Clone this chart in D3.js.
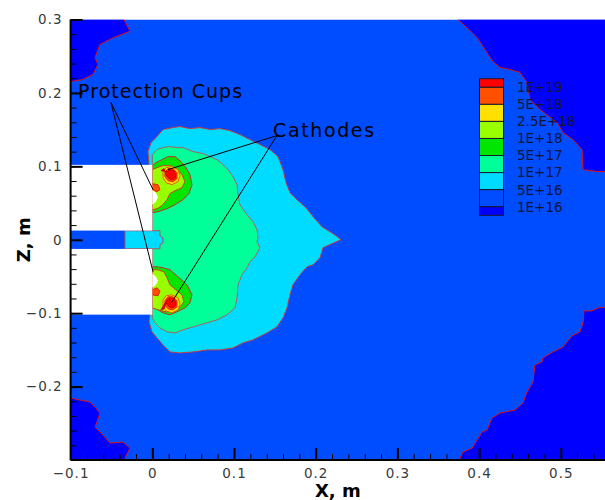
<!DOCTYPE html>
<html>
<head>
<meta charset="utf-8">
<script src="https://cdn.jsdelivr.net/npm/d3@7"></script>
<style>
  body { margin: 0; background: #fff; }
  svg { display: block; font-family: "DejaVu Sans", "Liberation Sans", sans-serif; }
</style>
</head>
<body>
<div id="chart"></div>
<script>
const width = 605;
const height = 500;

// legend levels, top to bottom
const levelLabels = ['1E+19', '5E+18', '2.5E+18', '1E+18', '5E+17', '1E+17', '5E+16', '1E+16'];
const levelColors = ['#ff0000', '#ff5000', '#ffe000', '#99ff00', '#00e600', '#00ff99', '#00dcff', '#004cff', '#0000ff'];

const xTicks = [-0.1, 0, 0.1, 0.2, 0.3, 0.4, 0.5];
const zTicks = [-0.2, -0.1, 0, 0.1, 0.2, 0.3];

// contour outlines, [x, z] in metres
const darkTopLeft = [[-0.0346, 0.3], [-0.0273, 0.284], [-0.0371, 0.2797], [-0.0469, 0.2756], [-0.064, 0.266], [-0.0701, 0.248], [-0.0665, 0.2387], [-0.0726, 0.225], [-0.0861, 0.218], [-0.1, 0.2155]];
const darkBottomLeft = [[-0.1, -0.2156], [-0.0885, -0.2183], [-0.0763, -0.221], [-0.0701, -0.2278], [-0.064, -0.236], [-0.0677, -0.2483], [-0.0701, -0.2551], [-0.0603, -0.266], [-0.0518, -0.2769], [-0.0359, -0.2756], [-0.0273, -0.2838], [-0.0334, -0.2974], [-0.0334, -0.3]];
const darkTopRight = [[0.3742, 0.3], [0.3913, 0.2824], [0.3974, 0.2756], [0.4047, 0.2633], [0.4109, 0.2524], [0.417, 0.2428], [0.4255, 0.2347], [0.4378, 0.2319], [0.45, 0.2278], [0.4586, 0.2142], [0.4623, 0.191], [0.4745, 0.1774], [0.4953, 0.1596], [0.5027, 0.146], [0.5149, 0.1364], [0.5259, 0.1228], [0.5272, 0.0955], [0.5443, 0.0928], [0.56, 0.0928]];
const darkBottomRight = [[0.3755, -0.3], [0.3804, -0.2892], [0.3914, -0.2838], [0.4036, -0.2619], [0.4097, -0.2592], [0.4158, -0.2428], [0.4256, -0.236], [0.4439, -0.2319], [0.4537, -0.2224], [0.4586, -0.2074], [0.466, -0.1937], [0.4684, -0.1705], [0.477, -0.1664], [0.4782, -0.161], [0.4904, -0.1528], [0.5027, -0.146], [0.5137, -0.131], [0.5235, -0.1255], [0.5272, -0.1132], [0.5284, -0.0969], [0.5382, -0.0969], [0.5455, -0.0928], [0.56, -0.0914]];

const cyanBlob = [[-0.004, 0.1023], [-0.0053, 0.1201], [-0.0016, 0.1323], [0.0058, 0.1405], [0.0131, 0.1501], [0.0253, 0.1528], [0.0339, 0.1542], [0.0461, 0.1514], [0.0584, 0.1528], [0.0706, 0.1501], [0.0828, 0.1514], [0.0951, 0.1487], [0.1073, 0.1432], [0.1196, 0.1364], [0.1318, 0.1296], [0.1441, 0.1228], [0.1539, 0.1132], [0.16, 0.0955], [0.1637, 0.0778], [0.1685, 0.0641], [0.1771, 0.0546], [0.1881, 0.0437], [0.1979, 0.03], [0.2077, 0.0177], [0.2175, 0.0109], [0.2249, 0.0055], [0.231, 0.0], [0.2224, -0.0041], [0.2089, -0.0109], [0.2053, -0.0246], [0.1967, -0.0341], [0.1894, -0.0368], [0.1808, -0.0477], [0.1722, -0.0614], [0.1685, -0.075], [0.1649, -0.0928], [0.16, -0.1064], [0.1526, -0.1187], [0.1404, -0.1269], [0.1233, -0.1364], [0.111, -0.1405], [0.0988, -0.1473], [0.0829, -0.1501], [0.067, -0.1501], [0.0498, -0.1528], [0.0339, -0.1542], [0.0216, -0.1528], [0.0131, -0.1432], [0.0058, -0.1337], [-0.0004, -0.1255], [-0.004, -0.1119], [-0.0028, -0.101]];
const cyanGap = [[-0.0334, 0.0123], [0.0094, 0.0123], [0.0094, 0.0055], [0.0131, 0.0027], [0.0131, -0.0041], [0.0094, -0.0068], [0.0094, -0.0123], [-0.0334, -0.0123]];

const seaGreen = [[0.0, 0.1023], [0.0, 0.116], [0.0058, 0.1228], [0.0131, 0.1255], [0.0216, 0.1269], [0.0302, 0.1255], [0.0376, 0.1255], [0.0498, 0.1201], [0.0621, 0.1173], [0.0706, 0.1132], [0.0792, 0.1091], [0.0865, 0.1023], [0.0927, 0.0955], [0.0988, 0.0859], [0.1037, 0.075], [0.1049, 0.0614], [0.1073, 0.0477], [0.1159, 0.0341], [0.1233, 0.0246], [0.1282, 0.0136], [0.1294, 0.0027], [0.1282, -0.0027], [0.1318, -0.0109], [0.1257, -0.0232], [0.1196, -0.03], [0.1159, -0.0382], [0.1098, -0.0477], [0.1049, -0.0614], [0.1037, -0.0791], [0.1012, -0.0928], [0.0914, -0.1023], [0.0792, -0.1091], [0.067, -0.1132], [0.0498, -0.1187], [0.0376, -0.1228], [0.0278, -0.1269], [0.018, -0.1255], [0.0094, -0.1201], [0.0033, -0.1132], [0.0, -0.1064], [0.0, -0.101]];

const greenUpper = [[0.0, 0.101], [0.0045, 0.105], [0.0118, 0.1091], [0.0192, 0.1132], [0.0278, 0.1132], [0.0351, 0.1064], [0.0412, 0.0982], [0.0461, 0.0887], [0.0486, 0.075], [0.0449, 0.0628], [0.0376, 0.0546], [0.0278, 0.0477], [0.018, 0.0423], [0.007, 0.0382], [0.0, 0.0368]];
const greenLower = [[0.0, -0.0368], [0.0058, -0.0368], [0.0131, -0.0382], [0.0216, -0.0409], [0.0315, -0.0505], [0.0425, -0.0614], [0.0486, -0.075], [0.0461, -0.0859], [0.04, -0.0928], [0.0302, -0.0982], [0.0216, -0.1023], [0.0131, -0.0996], [0.007, -0.0955], [0.0, -0.0914]];

const yellowGreenUpper = [[0.0, 0.0955], [0.0058, 0.0982], [0.0131, 0.101], [0.0216, 0.101], [0.0302, 0.0955], [0.0363, 0.0887], [0.04, 0.0791], [0.0363, 0.0709], [0.0278, 0.0668], [0.0216, 0.0628], [0.018, 0.0546], [0.0118, 0.0464], [0.0058, 0.0423], [0.0, 0.0409]];
const yellowGreenLower = [[0.0, -0.0409], [0.007, -0.0409], [0.0143, -0.0437], [0.018, -0.0518], [0.0216, -0.0614], [0.029, -0.0682], [0.0363, -0.075], [0.0388, -0.0846], [0.0339, -0.0914], [0.0266, -0.0955], [0.0168, -0.0982], [0.007, -0.0955], [0.0, -0.0928]];

const yellowUpper = [[0.0131, 0.0928], [0.0168, 0.0982], [0.0241, 0.0996], [0.0315, 0.0955], [0.0339, 0.0873], [0.0315, 0.0791], [0.0241, 0.075], [0.0168, 0.0778], [0.0131, 0.0846]];
const yellowLower = [[0.0131, -0.0819], [0.0168, -0.0764], [0.0241, -0.075], [0.0315, -0.0791], [0.0339, -0.0873], [0.0315, -0.0955], [0.0241, -0.0996], [0.0168, -0.0969], [0.0131, -0.0914]];
const orangeUpper = [[0.0155, 0.0914], [0.0192, 0.0969], [0.0253, 0.0969], [0.0302, 0.0914], [0.0302, 0.0832], [0.0253, 0.0791], [0.0192, 0.0805], [0.0155, 0.0859]];
const orangeLower = [[0.0155, -0.0832], [0.0192, -0.0778], [0.0253, -0.0778], [0.0302, -0.0832], [0.0302, -0.0914], [0.0253, -0.0955], [0.0192, -0.0941], [0.0155, -0.0887]];
const redUpper = [[0.018, 0.0928], [0.0216, 0.0955], [0.0266, 0.0941], [0.029, 0.0887], [0.0278, 0.0832], [0.0229, 0.0819], [0.0192, 0.0846], [0.0168, 0.0887], [0.0143, 0.0969], [0.0106, 0.0941]];
const redLower = [[0.018, -0.0819], [0.0216, -0.0791], [0.0266, -0.0805], [0.029, -0.0859], [0.0278, -0.0914], [0.0229, -0.0928], [0.0192, -0.0900], [0.0168, -0.0859], [0.0143, -0.0941], [0.0106, -0.0955]];

// small orange bits next to the cups
const cupUpperBits = [[0.0, 0.0764], [0.007, 0.0750], [0.0094, 0.0682], [0.0055, 0.0655], [0.0, 0.0682]];
const cupLowerBits = [[0.0, -0.0682], [0.0058, -0.0655], [0.0094, -0.0696], [0.007, -0.0764], [0.0, -0.0750]];

// electrode holders (blank) and cup notches
const holders = [[-0.1, 0.0, 0.0125, 0.102], [-0.1, 0.0, -0.102, -0.0125]];
const cupUpper = [[0.0, 0.0682], [0.0045, 0.0641], [0.007, 0.0587], [0.0045, 0.0518], [0.0, 0.0477]];
const cupLower = [[0.0, -0.0464], [0.0045, -0.0505], [0.007, -0.0559], [0.0045, -0.0614], [0.0, -0.0655]];

// annotations
const cupsLabel = {text: 'Protection Cups', at: [-0.0909, 0.1937], from: [-0.0506, 0.1869], to: [[0.0009, 0.0682], [0.0009, -0.0437]]};
const cathodeLabel = {text: 'Cathodes', at: [0.1478, 0.1405], from: [0.1526, 0.1419], to: [[0.0192, 0.0955], [0.0241, -0.0846]]};

const x = d3.scaleLinear().domain([-0.1, 0.5]).range([70.6, 560.8]);
const z = d3.scaleLinear().domain([-0.3, 0.3]).range([460, 19.5]);

const svg = d3.select('#chart').append('svg')
  .attr('width', width)
  .attr('height', height);

svg.append('clipPath').attr('id', 'plotclip')
  .append('rect')
  .attr('x', x(-0.1)).attr('y', z(0.3))
  .attr('width', width - x(-0.1)).attr('height', z(-0.3) - z(0.3));

const plot = svg.append('g').attr('clip-path', 'url(#plotclip)');
const line = d3.line().x(d => x(d[0])).y(d => z(d[1]));

plot.append('rect')
  .attr('x', x(-0.1)).attr('y', z(0.3))
  .attr('width', width - x(-0.1)).attr('height', z(-0.3) - z(0.3))
  .attr('fill', levelColors[7]);

function region(pts, fill, stroke) {
  plot.append('path')
    .attr('d', line(pts) + 'Z')
    .attr('fill', fill)
    .attr('stroke', stroke || 'none')
    .attr('stroke-width', 1);
}

// corner regions: fill with the corner, stroke only the contour
function corner(pts, cornerPt) {
  plot.append('path').attr('d', line(pts.concat([cornerPt])) + 'Z').attr('fill', levelColors[8]);
  plot.append('path').attr('d', line(pts)).attr('fill', 'none').attr('stroke', '#e01010').attr('stroke-width', 1);
}

corner(darkTopLeft, [-0.1, 0.3]);
corner(darkBottomLeft, [-0.1, -0.3]);
corner(darkTopRight, [0.56, 0.3]);
corner(darkBottomRight, [0.56, -0.3]);

region(cyanBlob, levelColors[6], '#c8383c');
region(seaGreen, levelColors[5], '#a86060');
region(cyanGap, levelColors[6], '#b05060');
region(greenUpper, levelColors[4], '#c03030');
region(greenLower, levelColors[4], '#c03030');
region(yellowGreenUpper, levelColors[3], '#c84020');
region(yellowGreenLower, levelColors[3], '#c84020');
region(cupUpperBits, levelColors[1], '#e02000');
region(cupLowerBits, levelColors[1], '#e02000');
region(yellowUpper, levelColors[2], '#e06000');
region(yellowLower, levelColors[2], '#e06000');
region(orangeUpper, levelColors[1], '#e02000');
region(orangeLower, levelColors[1], '#e02000');
region(redUpper, levelColors[0], '#d00000');
region(redLower, levelColors[0], '#d00000');

plot.selectAll('rect.holder')
  .data(holders)
  .join('rect')
  .attr('class', 'holder')
  .attr('x', d => x(d[0]))
  .attr('y', d => z(d[3]))
  .attr('width', d => x(d[1]) - x(d[0]))
  .attr('height', d => z(d[2]) - z(d[3]))
  .attr('fill', '#fff');
region(cupUpper, '#fff');
region(cupLower, '#fff');

// annotation leaders
[cupsLabel, cathodeLabel].forEach(a => {
  a.to.forEach(t => {
    svg.append('line')
      .attr('x1', x(a.from[0])).attr('y1', z(a.from[1]))
      .attr('x2', x(t[0])).attr('y2', z(t[1]))
      .attr('stroke', '#000').attr('stroke-width', 1);
  });
});
svg.append('text')
  .attr('x', x(cupsLabel.at[0])).attr('y', z(cupsLabel.at[1]))
  .attr('font-size', 19).attr('textLength', 164).attr('lengthAdjust', 'spacing')
  .text(cupsLabel.text);
svg.append('text')
  .attr('x', x(cathodeLabel.at[0])).attr('y', z(cathodeLabel.at[1]))
  .attr('font-size', 19).attr('textLength', 101).attr('lengthAdjust', 'spacing')
  .text(cathodeLabel.text);

// axes: ticks point inward
const minorX = d3.range(-0.1, 0.545, 0.02);
const minorZ = d3.range(-0.3, 0.301, 0.02);

svg.append('g')
  .attr('transform', `translate(0,${z(-0.3)})`)
  .call(d3.axisBottom(x).tickValues(minorX).tickSize(-6).tickSizeOuter(0).tickFormat(''))
  .call(g => g.select('.domain').remove());
svg.append('g')
  .attr('transform', `translate(${x(-0.1)},0)`)
  .call(d3.axisLeft(z).tickValues(minorZ).tickSize(-6).tickSizeOuter(0).tickFormat(''))
  .call(g => g.select('.domain').remove());

const xAxis = svg.append('g')
  .attr('transform', `translate(0,${z(-0.3)})`)
  .call(d3.axisBottom(x).tickValues(xTicks).tickSize(-12).tickSizeOuter(0).tickPadding(8)
    .tickFormat(d => d === 0 ? '0' : d3.format('.1f')(d)));
const zAxis = svg.append('g')
  .attr('transform', `translate(${x(-0.1)},0)`)
  .call(d3.axisLeft(z).tickValues(zTicks).tickSize(-12).tickSizeOuter(0).tickPadding(8)
    .tickFormat(d => d === 0 ? '0' : d3.format('.1f')(d)));

[xAxis, zAxis].forEach(g => {
  g.select('.domain').attr('stroke', '#000').attr('stroke-width', 2);
  g.selectAll('.tick line').attr('stroke', '#000').attr('stroke-width', 2);
  g.selectAll('.tick text')
    .attr('font-family', '"DejaVu Sans", sans-serif')
    .attr('font-size', 13.5)
    .attr('letter-spacing', 1)
    .attr('fill', '#3a3a3a');
});
svg.selectAll('.tick line').attr('stroke', '#000');
zAxis.select('.domain').attr('d', `M0,${z(0.3)}V${z(-0.3)}`);
xAxis.select('.domain').attr('d', `M${x(-0.1)},0H${width}`);

svg.append('text')
  .attr('x', (x(-0.1) + width) / 2).attr('y', 497)
  .attr('text-anchor', 'middle')
  .attr('font-size', 18).attr('font-weight', 'bold')
  .text('X, m');
svg.append('text')
  .attr('transform', `translate(30,${z(0)}) rotate(-90)`)
  .attr('text-anchor', 'middle')
  .attr('font-size', 18).attr('font-weight', 'bold')
  .text('Z, m');

// legend
const legY = d3.scaleLinear().domain([0, 7]).range([87.3, 206.7]);
const legTop = 78.7, legBottom = 215.3;
const legend = svg.append('g');
legend.selectAll('rect')
  .data(levelColors)
  .join('rect')
  .attr('x', 479.5)
  .attr('y', (d, i) => i === 0 ? legTop : legY(i - 1))
  .attr('width', 24)
  .attr('height', (d, i) => (i === levelColors.length - 1 ? legBottom : legY(i)) - (i === 0 ? legTop : legY(i - 1)))
  .attr('fill', d => d)
  .attr('stroke', '#1a1a2a')
  .attr('stroke-width', 1);
legend.selectAll('text')
  .data(levelLabels)
  .join('text')
  .attr('x', 517)
  .attr('y', (d, i) => legY(i))
  .attr('dy', '0.36em')
  .attr('font-size', 13.5)
  .attr('fill', '#141432')
  .text(d => d);
</script>
</body>
</html>
